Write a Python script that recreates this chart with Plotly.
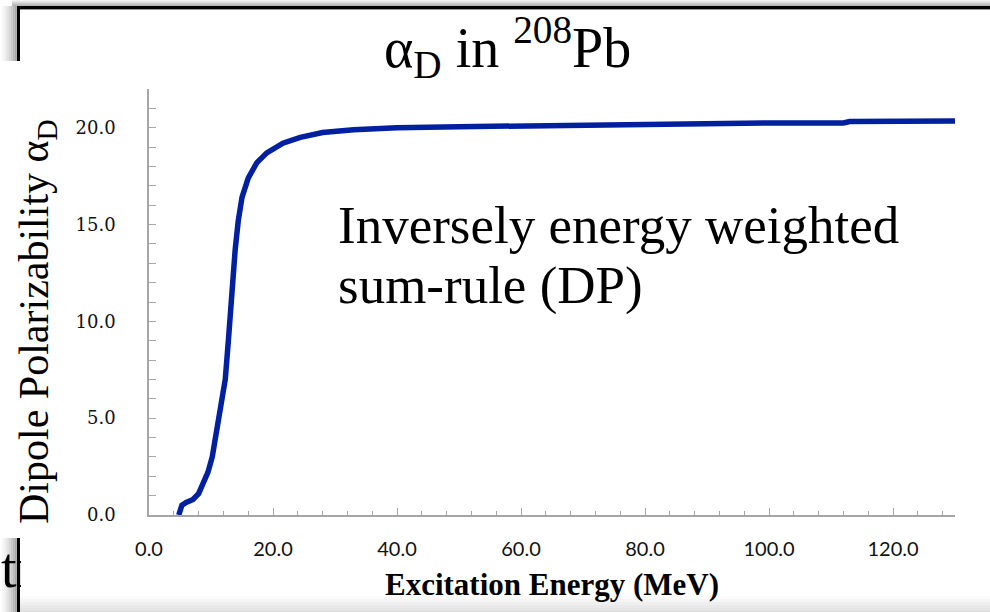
import plotly.graph_objects as go

# ---- data ----
energy_mev = [4.8, 5.3, 6.0, 7.1, 8.0, 8.7, 9.5, 10.2, 11.0, 11.8, 12.3, 12.8, 13.2,
              13.5, 13.9, 14.4, 15.0, 16.0, 17.4, 19.0, 21.6, 24.4, 28.0, 33.0, 40.0,
              50.0, 60.0, 70.0, 80.0, 90.0, 100.0, 112.0, 113.0, 130.0]
alpha_d = [0.0, 0.5, 0.65, 0.8, 1.1, 1.6, 2.2, 3.0, 4.4, 5.9, 7.0, 9.0, 11.0,
           12.5, 13.7, 15.2, 16.4, 17.4, 18.2, 18.7, 19.2, 19.5, 19.75, 19.9, 20.0,
           20.05, 20.1, 20.15, 20.2, 20.2, 20.25, 20.25, 20.32, 20.35]

title_text = "α<sub>D</sub> in <sup>208</sup>Pb"
y_title = "Dipole Polarizability α<sub>D</sub>"
x_title = "<b>Excitation Energy (MeV)</b>"
note_lines = ["Inversely energy weighted", "sum-rule (DP)"]

W, H = 990, 612
L, R, T, B = 149, 35, 89, 97
PW, PH = W - L - R, H - T - B


def px(x):
    return (x - L) / PW


def py(y):
    return (H - B - y) / PH


fig = go.Figure()
fig.add_trace(go.Scatter(x=energy_mev, y=alpha_d, mode="lines",
                         line=dict(color="#0020A0", width=5.5), showlegend=False,
                         hoverinfo="skip"))

axis_col = "#a6a6a6"
fig.update_xaxes(range=[0, 130], dtick=20, tick0=0, tickformat=".1f",
                 showgrid=False, zeroline=False, showline=True, linecolor=axis_col,
                 linewidth=1.5, ticks="inside", ticklen=7, tickcolor=axis_col,
                 tickwidth=1.2, ticklabelstandoff=15,
                 tickfont=dict(family="Lato", size=20, color="#111"),
                 minor=dict(dtick=4, ticks="inside", ticklen=4, tickcolor=axis_col,
                            tickwidth=1.2, showgrid=False))
fig.update_yaxes(range=[0, 22], dtick=5, tick0=0, tickformat=".1f",
                 showgrid=False, zeroline=False, showline=True, linecolor=axis_col,
                 linewidth=1.5, ticks="inside", ticklen=7, tickcolor=axis_col,
                 tickwidth=1.2, ticklabelstandoff=28,
                 tickfont=dict(family="DejaVu Serif", size=18, color="#111"),
                 minor=dict(dtick=1, ticks="inside", ticklen=7, tickcolor=axis_col,
                            tickwidth=1.2, showgrid=False))

shapes = []


def rect(x0, y0, x1, y1, color, layer="below"):
    shapes.append(dict(type="rect", xref="paper", yref="paper",
                       x0=px(x0), x1=px(x1), y0=py(y1), y1=py(y0),
                       fillcolor=color, line=dict(width=0), layer=layer))


# top shadow + border line of the slide frame
for i, c in enumerate(["#f2f2f2", "#e6e6e6", "#d9d9d9", "#cccccc", "#c0c0c0", "#b5b5b5"]):
    rect(12, i, 990, i + 1, c)
rect(17, 6, 990, 9, "#000000")
rect(17, 9, 990, 10, "#9a9a9a")
# left shadows
grads = ["#ffffff", "#f7f7f7", "#eeeeee", "#e3e3e3", "#d6d6d6", "#c8c8c8", "#b8b8b8", "#a8a8a8"]
for i, c in enumerate(grads):
    rect(i * 2.1, 6, i * 2.1 + 2.2, 61, c)
    rect(i * 2.1, 538, i * 2.1 + 2.2, 612, c)
rect(17, 6, 20, 61, "#000000")
# bottom shadow
for i, c in enumerate(["#fbfbfb", "#f5f5f5", "#efefef", "#e9e9e9", "#e3e3e3", "#dddddd"]):
    rect(20, 596 + i * 3, 990, 599 + i * 3, c)

annotations = [
    dict(text=title_text, x=px(507), y=py(47), xref="paper", yref="paper",
         showarrow=False, xanchor="center", yanchor="middle",
         font=dict(family="Liberation Serif", size=56, color="#000")),
    dict(text=y_title, x=px(37), y=py(322), xref="paper", yref="paper",
         showarrow=False, xanchor="center", yanchor="middle", textangle=-90,
         font=dict(family="Liberation Serif", size=42, color="#000")),
    dict(text=x_title, x=px(552), y=py(584), xref="paper", yref="paper",
         showarrow=False, xanchor="center", yanchor="middle",
         font=dict(family="Liberation Serif", size=31, color="#000")),
    dict(text=note_lines[0], x=px(336), y=py(225), xref="paper", yref="paper",
         showarrow=False, xanchor="left", yanchor="middle",
         font=dict(family="Liberation Serif", size=53, color="#000")),
    dict(text=note_lines[1], x=px(336), y=py(285), xref="paper", yref="paper",
         showarrow=False, xanchor="left", yanchor="middle",
         font=dict(family="Liberation Serif", size=53, color="#000")),
    dict(text="tr", x=px(-1), y=py(568), xref="paper", yref="paper",
         showarrow=False, xanchor="left", yanchor="middle",
         font=dict(family="Liberation Serif", size=56, color="#000")),
    # cover to hide the rest of the clipped word, and frame line on top
    dict(text=" ", x=px(21), y=py(538), xref="paper", yref="paper",
         showarrow=False, xanchor="left", yanchor="top", width=40, height=56,
         bgcolor="#ffffff", borderpad=0, borderwidth=0),
    dict(text=" ", x=px(17), y=py(538), xref="paper", yref="paper",
         showarrow=False, xanchor="left", yanchor="top", width=3, height=74,
         bgcolor="#000000", borderpad=0, borderwidth=0),
]

fig.update_layout(width=W, height=H, margin=dict(l=L, r=R, t=T, b=B, pad=0),
                  paper_bgcolor="#ffffff", plot_bgcolor="rgba(0,0,0,0)",
                  shapes=shapes, annotations=annotations, showlegend=False)

fig.write_html("out.html")
